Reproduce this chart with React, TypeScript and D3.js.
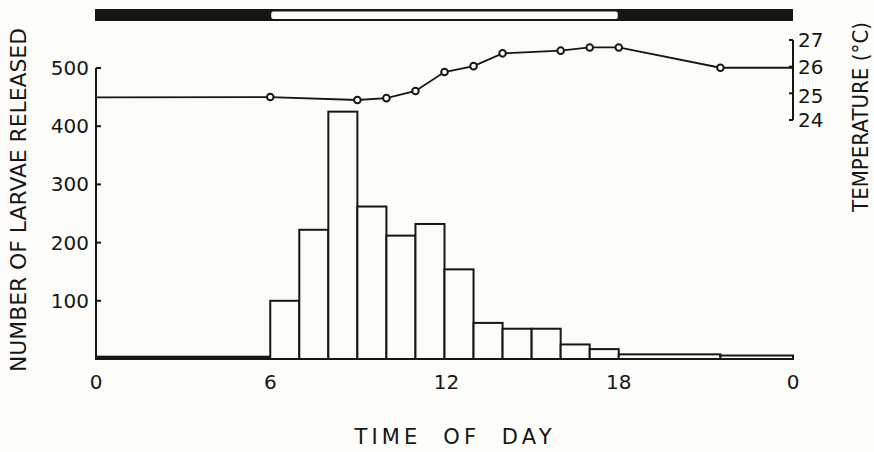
import React from "react";
import * as d3 from "d3";

// ---- data ----
const binEdges = [0, 6, 7, 8, 9, 10, 11, 12, 13, 14, 15, 16, 17, 18, 21.5, 24];
const larvae = [4, 100, 222, 425, 262, 212, 232, 154, 62, 52, 52, 25, 17, 8, 6];
const tempHours = [0, 6, 9, 10, 11, 12, 13, 14, 16, 17, 18, 21.5, 24];
const temps = [24.85, 24.86, 24.75, 24.82, 25.09, 25.8, 26.02, 26.5, 26.6, 26.72, 26.72, 25.96, 25.96];
const tempMarked = [false, true, true, true, true, true, true, true, true, true, true, true, false];
const xTicks = [0, 6, 12, 18, 24];
const xTickLabels = ["0", "6", "12", "18", "0"];
const yTicks = [100, 200, 300, 400, 500];
const tTicks = [24, 25, 26, 27];
const lightPeriods = [
  { from: 0, to: 6, light: false },
  { from: 6, to: 18, light: true },
  { from: 18, to: 24, light: false },
];

const W = 874;
const H = 452;
const FONT = "'DejaVu Sans', sans-serif";
const INK = "#161616";
const PAPER = "#fcfcf8";

export default function App() {
  const x = d3.scaleLinear().domain([0, 24]).range([96, 793]);
  const y = d3.scaleLinear().domain([0, 500]).range([359, 68]);
  const t = d3.scaleLinear().domain([24, 27]).range([120, 40]);

  const line = d3
    .line<number>()
    .x((_, i) => x(tempHours[i]))
    .y((d) => t(d));

  const bars = larvae.map((v, i) => ({ x0: binEdges[i], x1: binEdges[i + 1], v }));

  return (
    <svg
      width={W}
      height={H}
      style={{ position: "absolute", left: 0, top: 0, display: "block" }}
      fontFamily={FONT}
    >
      <rect x={0} y={0} width={W} height={H} fill={PAPER} />

      {/* light/dark bar */}
      <rect x={x(0) - 1} y={9} width={x(24) - x(0) + 1} height={12} fill={INK} />
      {lightPeriods
        .filter((p) => p.light)
        .map((p, i) => (
          <rect
            key={i}
            x={x(p.from) + 1}
            y={11.5}
            width={x(p.to) - x(p.from) - 2}
            height={7.5}
            rx={2}
            fill={PAPER}
          />
        ))}

      {/* histogram */}
      {bars.map((b, i) => {
        const h = y(0) - y(b.v);
        return (
          <rect
            key={i}
            x={x(b.x0)}
            y={y(b.v)}
            width={x(b.x1) - x(b.x0)}
            height={h}
            fill={h < 3 ? INK : PAPER}
            stroke={INK}
            strokeWidth={2}
          />
        );
      })}

      {/* left axis */}
      <line x1={x(0)} x2={x(0)} y1={y(500)} y2={y(0)} stroke={INK} strokeWidth={2} />
      {yTicks.map((v) => (
        <g key={v}>
          <line x1={x(0)} x2={x(0) + 5} y1={y(v)} y2={y(v)} stroke={INK} strokeWidth={2} />
          <text
            x={x(0) - 7}
            y={y(v)}
            textAnchor="end"
            dominantBaseline="central"
            fontSize={20}
            fill={INK}
          >
            {v}
          </text>
        </g>
      ))}

      {/* right axis */}
      <line x1={x(24)} x2={x(24)} y1={t(27)} y2={t(24)} stroke={INK} strokeWidth={2} />
      {tTicks.map((v) => (
        <g key={v}>
          <line x1={x(24) - 4} x2={x(24)} y1={t(v)} y2={t(v)} stroke={INK} strokeWidth={2} />
          <text
            x={x(24) + 5}
            y={t(v) + (v === 25 ? 3 : 0)}
            textAnchor="start"
            dominantBaseline="central"
            fontSize={20}
            fill={INK}
          >
            {v}
          </text>
        </g>
      ))}

      {/* temperature line */}
      <path d={line(temps) || ""} fill="none" stroke={INK} strokeWidth={1.8} />
      {temps.map((v, i) =>
        tempMarked[i] ? (
          <circle
            key={i}
            cx={x(tempHours[i])}
            cy={t(v)}
            r={3.3}
            fill={PAPER}
            stroke={INK}
            strokeWidth={2}
          />
        ) : null
      )}

      {/* x tick labels */}
      {xTicks.map((v, i) => (
        <text
          key={i}
          x={x(v) + (v === 12 ? 2 : 0)}
          y={382}
          textAnchor="middle"
          dominantBaseline="central"
          fontSize={20}
          fill={INK}
        >
          {xTickLabels[i]}
        </text>
      ))}

      {/* axis titles */}
      <text
        x={453}
        y={437}
        textAnchor="middle"
        dominantBaseline="central"
        fontSize={21}
        fill={INK}
        style={{ whiteSpace: "pre" }}
        textLength={197}
        lengthAdjust="spacing"
      >
        {"TIME  OF  DAY"}
      </text>
      <text
        transform={`translate(19,200) rotate(-90)`}
        textAnchor="middle"
        dominantBaseline="central"
        fontSize={21}
        fill={INK}
        textLength={344}
        lengthAdjust="spacingAndGlyphs"
      >
        NUMBER OF LARVAE RELEASED
      </text>
      <text
        transform={`translate(861,117) rotate(-90)`}
        textAnchor="middle"
        dominantBaseline="central"
        fontSize={21}
        fill={INK}
        textLength={190}
        lengthAdjust="spacingAndGlyphs"
      >
        TEMPERATURE (°C)
      </text>
    </svg>
  );
}
